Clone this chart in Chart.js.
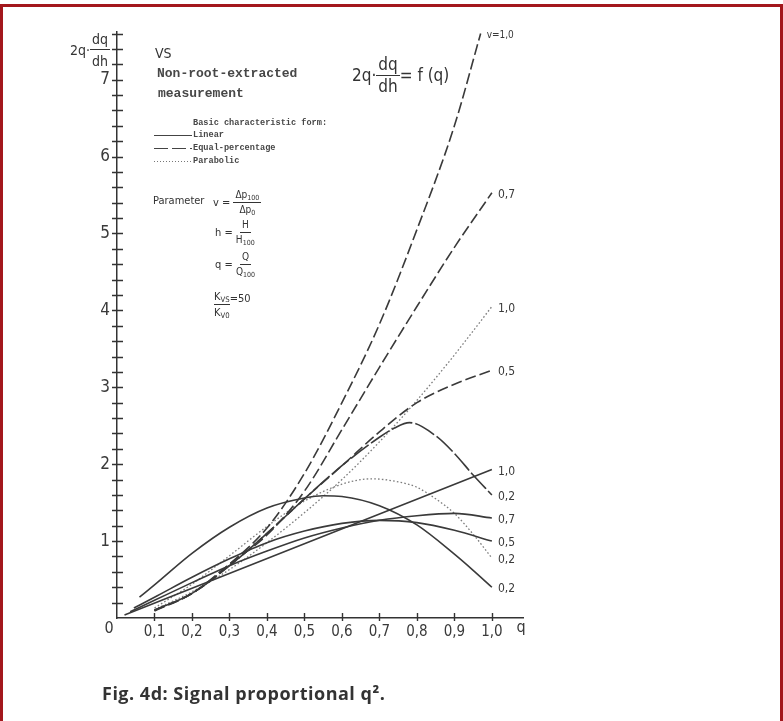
<!DOCTYPE html>
<html lang="en">
<head>
<meta charset="UTF-8">
<title>Fig. 4d: Signal proportional q²</title>
<script src="https://cdn.jsdelivr.net/npm/chart.js"></script>
<style>
  body { margin: 0; background: #fff; }
  #page { position: relative; width: 783px; height: 721px; overflow: hidden; color: #333;
          font-family: "DejaVu Sans Condensed", "Liberation Sans Narrow", sans-serif; }
  #frame { position: absolute; left: 0; top: 4px; width: 777px; height: 740px; border: 3px solid #a3171c; }
  canvas { position: absolute; left: 0; top: 0; }
  .t { position: absolute; white-space: nowrap; line-height: 1; display: flex; align-items: center; }
  .frac { display: inline-flex; flex-direction: column; align-items: center; }
  .frac .num { border-bottom: 1.2px solid #333; padding: 0 2px 2px; }
  .frac .den { padding-top: 2px; }
  sub { font-size: 0.7em; vertical-align: -0.25em; line-height: 0; }
  .mono { font-family: "Liberation Mono", "DejaVu Sans Mono", monospace; font-weight: bold; color: #474747; }
  .sample { width: 38px; height: 1.4px; margin-right: 1px; }
  .caption { position: absolute; left: 102px; top: 684px; font-family: "Open Sans", sans-serif;
             font-weight: 700; font-size: 18px; letter-spacing: 0.5px; line-height: 1; color: #333; white-space: nowrap; }
</style>
</head>
<body>
<div id="page">
  <div id="frame"></div>
  <canvas id="chart" width="783" height="721"></canvas>

  <!-- axis title -->
  <div class="t" style="left:70px; top:32px; font-size:14px;">2q·<span class="frac"><span class="num" style="padding-bottom:3px">dq</span><span class="den" style="padding-top:4px">dh</span></span></div>

  <div class="t" style="left:155px; top:46px; font-size:14px;">VS</div>
  <div class="t mono" style="left:157px; top:67px; font-size:13px;">Non-root-extracted</div>
  <div class="t mono" style="left:158px; top:87px; font-size:13px;">measurement</div>

  <!-- line style key -->
  <div class="t mono" style="left:193px; top:119px; font-size:8.6px;">Basic characteristic form:</div>
  <div class="t mono" style="left:154px; top:131px; font-size:8.6px;"><span class="sample" style="background:#444"></span>Linear</div>
  <div class="t mono" style="left:154px; top:144px; font-size:8.6px;"><span class="sample" style="background:repeating-linear-gradient(90deg,#444 0 14px,transparent 14px 18px)"></span>Equal-percentage</div>
  <div class="t mono" style="left:154px; top:157px; font-size:8.6px;"><span class="sample" style="background:repeating-linear-gradient(90deg,#777 0 1.5px,transparent 1.5px 3px)"></span>Parabolic</div>

  <!-- parameters -->
  <div class="t" style="left:153px; top:195px; font-size:11px;">Parameter</div>
  <div class="t" style="left:213px; top:190px; font-size:11px;">v =&nbsp;<span class="frac" style="font-size:10px"><span class="num">Δp<sub>100</sub></span><span class="den">Δp<sub>0</sub></span></span></div>
  <div class="t" style="left:215px; top:220px; font-size:11px;">h =&nbsp;<span class="frac" style="font-size:10px"><span class="num">H</span><span class="den">H<sub>100</sub></span></span></div>
  <div class="t" style="left:215px; top:252px; font-size:11px;">q =&nbsp;<span class="frac" style="font-size:10px"><span class="num">Q</span><span class="den">Q<sub>100</sub></span></span></div>
  <div class="t" style="left:214px; top:291px; font-size:11px; align-items:flex-start;"><span class="frac"><span class="num" style="padding:0 0 2px">K<sub>VS</sub></span><span class="den">K<sub>V0</sub></span></span><span style="margin-top:2px">=50</span></div>

  <!-- plotted function -->
  <div class="t" style="left:352px; top:56px; font-size:17px;">2q·<span class="frac"><span class="num">dq</span><span class="den">dh</span></span>= f (q)</div>

  <div class="caption">Fig. 4d: Signal proportional q².</div>
</div>

<script>
// relative flow q and 2q·dq/dh for each valve characteristic and v
const qLinear10 = [0.02, 1.0];
const yLinear10 = [0.04, 1.93];
const qLinear07 = [0.035, 0.1, 0.2, 0.3, 0.4, 0.5, 0.6, 0.7, 0.8, 0.9, 1.0];
const yLinear07 = [0.08, 0.23, 0.46, 0.68, 0.87, 1.04, 1.17, 1.27, 1.33, 1.36, 1.3];
const qLinear05 = [0.045, 0.1, 0.2, 0.3, 0.4, 0.5, 0.6, 0.7, 0.8, 0.9, 1.0];
const yLinear05 = [0.13, 0.27, 0.53, 0.77, 0.98, 1.13, 1.23, 1.27, 1.24, 1.14, 1.0];
const qLinear02 = [0.06, 0.1, 0.2, 0.3, 0.4, 0.5, 0.55, 0.6, 0.7, 0.8, 0.9, 0.95, 1.0];
const yLinear02 = [0.27, 0.43, 0.84, 1.18, 1.43, 1.56, 1.59, 1.58, 1.46, 1.21, 0.83, 0.62, 0.4];

const qEqual10 = [0.1, 0.2, 0.3, 0.4, 0.5, 0.6, 0.7, 0.8, 0.9, 0.97];
const yEqual10 = [0.1, 0.32, 0.7, 1.17, 1.88, 2.8, 3.82, 5.05, 6.4, 7.6];
const qEqual07 = [0.1, 0.2, 0.3, 0.4, 0.5, 0.6, 0.7, 0.8, 0.9, 1.0];
const yEqual07 = [0.09, 0.32, 0.7, 1.08, 1.65, 2.45, 3.26, 4.05, 4.82, 5.53];
const qEqual05 = [0.1, 0.2, 0.3, 0.4, 0.5, 0.6, 0.7, 0.8, 0.9, 1.0];
const yEqual05 = [0.1, 0.32, 0.68, 1.1, 1.55, 1.98, 2.42, 2.8, 3.04, 3.22];
const qEqual02 = [0.1, 0.2, 0.3, 0.4, 0.5, 0.6, 0.7, 0.74, 0.78, 0.85, 0.9, 0.95, 1.0];
const yEqual02 = [0.1, 0.32, 0.68, 1.1, 1.55, 1.98, 2.35, 2.47, 2.54, 2.37, 2.14, 1.86, 1.6];

const qParabolic10 = [0.1, 0.2, 0.3, 0.4, 0.5, 0.6, 0.7, 0.8, 0.9, 1.0];
const yParabolic10 = [0.11, 0.34, 0.63, 0.98, 1.37, 1.8, 2.29, 2.83, 3.42, 4.05];
const qParabolic02 = [0.1, 0.2, 0.3, 0.4, 0.5, 0.6, 0.68, 0.75, 0.8, 0.85, 0.9, 0.95, 1.0];
const yParabolic02 = [0.13, 0.44, 0.81, 1.19, 1.52, 1.74, 1.81, 1.77, 1.7, 1.55, 1.36, 1.09, 0.78];

const xTickLabels = ["", "0,1", "0,2", "0,3", "0,4", "0,5", "0,6", "0,7", "0,8", "0,9", "1,0"];
const yTickLabels = ["", "1", "2", "3", "4", "5", "6", "7"];

const FONT = '"DejaVu Sans Condensed", "Liberation Sans Narrow", sans-serif';
const INK = "#3a3a3a";

const solid = { borderColor: INK, borderWidth: 1.6, borderDash: [] };
const dashed = { borderColor: INK, borderWidth: 1.6, borderDash: [11, 4] };
const dotted = { borderColor: "#7d7d7d", borderWidth: 1.3, borderDash: [1.6, 2.2] };

function curve(qs, ys, style, endLabel) {
  return Object.assign({
    data: qs.map((q, i) => ({ x: q, y: ys[i] })),
    showLine: true,
    endLabel: endLabel
  }, style);
}

// small crossing tick marks, origin/axis names and curve end labels
const axisDecor = {
  id: "axisDecor",
  afterDraw(chart) {
    const { ctx, scales: { x, y } } = chart;
    ctx.save();
    ctx.strokeStyle = "#333";
    ctx.lineWidth = 1.4;
    ctx.beginPath();
    for (let k = 1; k <= 38; k++) {
      const py = Math.round(y.getPixelForValue(k * 0.2)) + 0.5;
      ctx.moveTo(x.left - 5, py);
      ctx.lineTo(x.left + 6, py);
    }
    for (let k = 1; k <= 10; k++) {
      const px = Math.round(x.getPixelForValue(k * 0.1)) + 0.5;
      ctx.moveTo(px, y.bottom - 5);
      ctx.lineTo(px, y.bottom + 3);
    }
    ctx.stroke();

    ctx.fillStyle = INK;
    ctx.font = "16px " + FONT;
    ctx.textBaseline = "middle";
    ctx.textAlign = "center";
    ctx.fillText("0", x.left - 8, y.bottom + 11);
    ctx.fillText("q", x.right - 2, y.bottom + 10);

    ctx.textAlign = "left";
    chart.data.datasets.forEach((ds, i) => {
      if (!ds.endLabel) return;
      const pts = chart.getDatasetMeta(i).data;
      const last = pts[pts.length - 1];
      ctx.font = (ds.endLabel.startsWith("v") ? "10px " : "12px ") + FONT;
      ctx.fillText(ds.endLabel, last.x + 6, last.y + 2);
    });
    ctx.restore();
  }
};

new Chart(document.getElementById("chart"), {
  type: "scatter",
  data: {
    datasets: [
      curve(qLinear10, yLinear10, solid, "1,0"),
      curve(qLinear07, yLinear07, solid, "0,7"),
      curve(qLinear05, yLinear05, solid, "0,5"),
      curve(qLinear02, yLinear02, solid, "0,2"),
      curve(qEqual10, yEqual10, dashed, "v=1,0"),
      curve(qEqual07, yEqual07, dashed, "0,7"),
      curve(qEqual05, yEqual05, dashed, "0,5"),
      curve(qEqual02, yEqual02, Object.assign({}, dashed, { borderDash: [22, 3] }), "0,2"),
      curve(qParabolic10, yParabolic10, dotted, "1,0"),
      curve(qParabolic02, yParabolic02, dotted, "0,2")
    ]
  },
  options: {
    responsive: false,
    animation: false,
    devicePixelRatio: 1,
    layout: { padding: { top: 32, right: 260, left: 0, bottom: 0 } },
    plugins: { legend: { display: false }, tooltip: { enabled: false } },
    elements: {
      point: { radius: 0 },
      line: { cubicInterpolationMode: "monotone", fill: false }
    },
    scales: {
      x: {
        type: "linear", min: 0, max: 1.083,
        afterFit: s => { s.height = 103; },
        grid: { display: false, drawTicks: false },
        border: { display: true, color: "#333", width: 1.5 },
        ticks: {
          stepSize: 0.1, includeBounds: false, autoSkip: false, maxRotation: 0, padding: 5,
          color: INK, font: { family: FONT, size: 15 },
          callback: (v, i) => xTickLabels[i]
        }
      },
      y: {
        type: "linear", min: 0, max: 7.62,
        afterFit: s => { s.width = 117; },
        grid: { display: false, drawTicks: false },
        border: { display: true, color: "#333", width: 1.5 },
        ticks: {
          stepSize: 1, includeBounds: false, autoSkip: false, padding: 7,
          color: INK, font: { family: FONT, size: 17 },
          callback: (v, i) => yTickLabels[i]
        }
      }
    }
  },
  plugins: [axisDecor]
});
</script>
</body>
</html>
